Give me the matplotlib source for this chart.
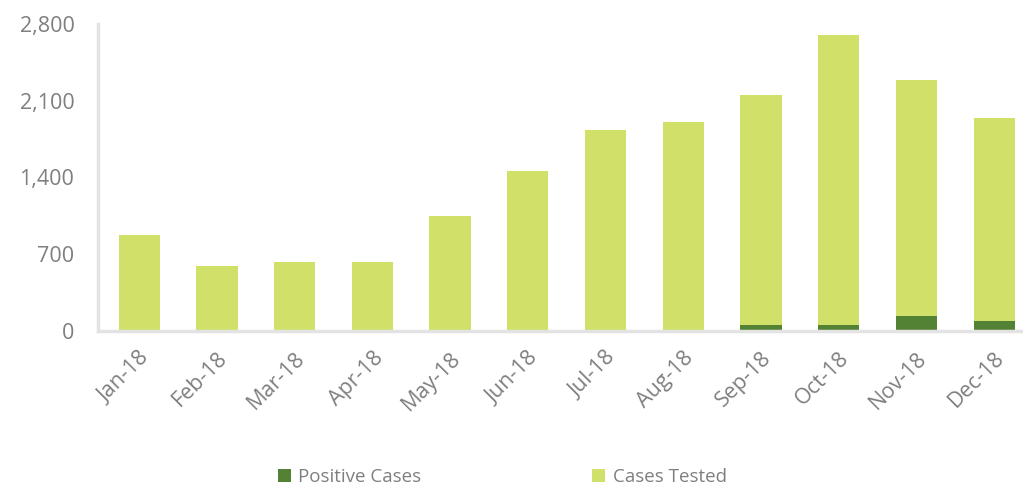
import matplotlib
matplotlib.use("Agg")
import matplotlib.pyplot as plt
from matplotlib.ticker import FuncFormatter

months = ["Jan-18", "Feb-18", "Mar-18", "Apr-18", "May-18", "Jun-18",
          "Jul-18", "Aug-18", "Sep-18", "Oct-18", "Nov-18", "Dec-18"]
cases_tested = [880, 590, 630, 630, 1045, 1455, 1830, 1910, 2155, 2700, 2285, 1945]
positive_cases = [0, 0, 0, 0, 0, 0, 0, 0, 55, 55, 137, 92]
y_ticks = [0, 700, 1400, 2100, 2800]

plt.rcParams["font.family"] = ["Open Sans", "DejaVu Sans"]
grey = "#7f7f7f"
light_green = "#d0e068"
dark_green = "#548235"

fig = plt.figure(figsize=(10.23, 4.88), dpi=100)
ax = fig.add_axes([98 / 1023, 1 - 331 / 488, 935 / 1023, 307 / 488])

x = list(range(len(months)))
ax.bar(x, cases_tested, width=0.53, color=light_green, label="Cases Tested", zorder=2)
ax.bar(x, positive_cases, width=0.53, color=dark_green, label="Positive Cases", zorder=3)

ax.set_xlim(-0.53, 11.5)
ax.set_ylim(0, 2800)
ax.set_yticks(y_ticks)
ax.yaxis.set_major_formatter(FuncFormatter(lambda v, p: f"{int(v):,}"))
ax.set_xticks(x)
ax.set_xticklabels(months, rotation=45, ha="right", rotation_mode="anchor")

for side in ["top", "right"]:
    ax.spines[side].set_visible(False)
for side in ["left", "bottom"]:
    ax.spines[side].set_color("#e3e3e3")
    ax.spines[side].set_linewidth(2.5)
    ax.spines[side].set_zorder(5)

ax.tick_params(axis="both", length=0, colors=grey)
ax.tick_params(axis="y", pad=17, labelsize=15.5)
ax.tick_params(axis="x", pad=12, labelsize=15.5)

handles, labels = ax.get_legend_handles_labels()
fig.legend(handles[::-1], labels[::-1], loc="lower center", ncol=2,
           bbox_to_anchor=(0.491, -0.03), frameon=False, fontsize=13.5,
           labelcolor=grey, columnspacing=9.1, handlelength=0.7,
           handleheight=0.7, handletextpad=0.4)

fig.savefig("out.png", dpi=100)
